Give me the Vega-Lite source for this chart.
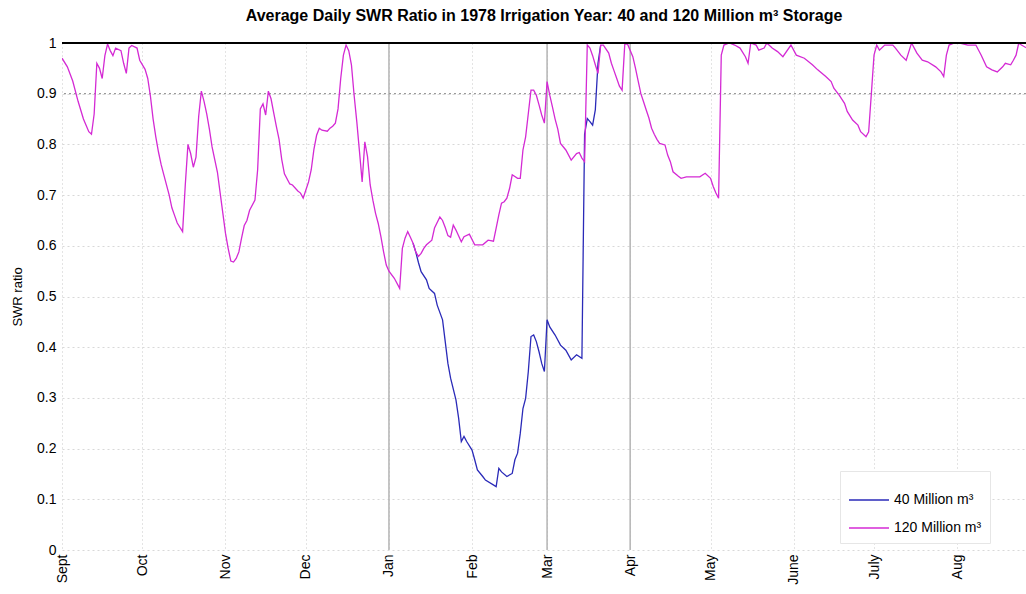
{
  "$schema": "https://vega.github.io/schema/vega-lite/v6.json",
  "autosize": {"type": "none"},
  "padding": {"left": 62, "top": 43, "right": 0, "bottom": 44},
  "width": 964,
  "height": 507,
  "background": "white",
  "title": {
    "text": "Average Daily SWR Ratio in 1978 Irrigation Year: 40 and 120 Million m³ Storage",
    "font": "Liberation Sans",
    "fontSize": 16,
    "fontWeight": "bold",
    "color": "#000000",
    "anchor": "middle",
    "offset": 12
  },
  "config": {
    "view": {"stroke": null},
    "font": "Liberation Sans",
    "axis": {
      "labelFont": "Liberation Sans",
      "titleFont": "Liberation Sans",
      "labelColor": "#000000",
      "titleColor": "#000000",
      "labelFontSize": 14,
      "titleFontSize": 13,
      "titleFontWeight": "normal"
    },
    "legend": {"labelFont": "Liberation Sans"}
  },
  "datasets": {
    "s120": [
      {"d": "1978-09-01", "v": 0.97}, {"d": "1978-09-03", "v": 0.953}, {"d": "1978-09-05", "v": 0.925},
      {"d": "1978-09-07", "v": 0.885}, {"d": "1978-09-09", "v": 0.85}, {"d": "1978-09-11", "v": 0.825},
      {"d": "1978-09-12", "v": 0.82}, {"d": "1978-09-13", "v": 0.86}, {"d": "1978-09-14", "v": 0.96},
      {"d": "1978-09-15", "v": 0.95}, {"d": "1978-09-16", "v": 0.93}, {"d": "1978-09-17", "v": 0.975},
      {"d": "1978-09-18", "v": 0.998}, {"d": "1978-09-19", "v": 0.985}, {"d": "1978-09-20", "v": 0.975},
      {"d": "1978-09-21", "v": 0.99}, {"d": "1978-09-23", "v": 0.985}, {"d": "1978-09-24", "v": 0.96},
      {"d": "1978-09-25", "v": 0.94}, {"d": "1978-09-26", "v": 0.99}, {"d": "1978-09-27", "v": 0.995},
      {"d": "1978-09-29", "v": 0.99}, {"d": "1978-09-30", "v": 0.966}, {"d": "1978-10-02", "v": 0.948},
      {"d": "1978-10-03", "v": 0.93}, {"d": "1978-10-04", "v": 0.895}, {"d": "1978-10-05", "v": 0.85},
      {"d": "1978-10-06", "v": 0.815}, {"d": "1978-10-07", "v": 0.785}, {"d": "1978-10-08", "v": 0.76},
      {"d": "1978-10-09", "v": 0.74}, {"d": "1978-10-11", "v": 0.7}, {"d": "1978-10-12", "v": 0.675},
      {"d": "1978-10-13", "v": 0.66}, {"d": "1978-10-14", "v": 0.645}, {"d": "1978-10-16", "v": 0.628},
      {"d": "1978-10-17", "v": 0.72}, {"d": "1978-10-18", "v": 0.8}, {"d": "1978-10-19", "v": 0.782},
      {"d": "1978-10-20", "v": 0.755}, {"d": "1978-10-21", "v": 0.775}, {"d": "1978-10-22", "v": 0.855},
      {"d": "1978-10-23", "v": 0.905}, {"d": "1978-10-24", "v": 0.885}, {"d": "1978-10-25", "v": 0.86},
      {"d": "1978-10-26", "v": 0.83}, {"d": "1978-10-27", "v": 0.795}, {"d": "1978-10-28", "v": 0.77},
      {"d": "1978-10-29", "v": 0.745}, {"d": "1978-10-30", "v": 0.705}, {"d": "1978-10-31", "v": 0.665},
      {"d": "1978-11-01", "v": 0.625}, {"d": "1978-11-02", "v": 0.595}, {"d": "1978-11-03", "v": 0.57},
      {"d": "1978-11-04", "v": 0.568}, {"d": "1978-11-05", "v": 0.575}, {"d": "1978-11-06", "v": 0.588},
      {"d": "1978-11-07", "v": 0.615}, {"d": "1978-11-08", "v": 0.64}, {"d": "1978-11-09", "v": 0.65},
      {"d": "1978-11-10", "v": 0.67}, {"d": "1978-11-12", "v": 0.69}, {"d": "1978-11-13", "v": 0.75},
      {"d": "1978-11-14", "v": 0.87}, {"d": "1978-11-15", "v": 0.88}, {"d": "1978-11-16", "v": 0.858},
      {"d": "1978-11-17", "v": 0.905}, {"d": "1978-11-18", "v": 0.89}, {"d": "1978-11-19", "v": 0.862},
      {"d": "1978-11-20", "v": 0.835}, {"d": "1978-11-21", "v": 0.81}, {"d": "1978-11-22", "v": 0.77},
      {"d": "1978-11-23", "v": 0.742}, {"d": "1978-11-25", "v": 0.722}, {"d": "1978-11-26", "v": 0.72},
      {"d": "1978-11-28", "v": 0.708}, {"d": "1978-11-29", "v": 0.704}, {"d": "1978-11-30", "v": 0.694},
      {"d": "1978-12-01", "v": 0.71}, {"d": "1978-12-02", "v": 0.726}, {"d": "1978-12-03", "v": 0.75},
      {"d": "1978-12-04", "v": 0.79}, {"d": "1978-12-05", "v": 0.818}, {"d": "1978-12-06", "v": 0.832},
      {"d": "1978-12-07", "v": 0.828}, {"d": "1978-12-09", "v": 0.826}, {"d": "1978-12-10", "v": 0.832},
      {"d": "1978-12-11", "v": 0.836}, {"d": "1978-12-12", "v": 0.842}, {"d": "1978-12-13", "v": 0.87},
      {"d": "1978-12-14", "v": 0.93}, {"d": "1978-12-15", "v": 0.976}, {"d": "1978-12-16", "v": 0.996},
      {"d": "1978-12-17", "v": 0.985}, {"d": "1978-12-18", "v": 0.957}, {"d": "1978-12-19", "v": 0.897},
      {"d": "1978-12-20", "v": 0.845}, {"d": "1978-12-21", "v": 0.786}, {"d": "1978-12-22", "v": 0.726},
      {"d": "1978-12-23", "v": 0.805}, {"d": "1978-12-24", "v": 0.776}, {"d": "1978-12-25", "v": 0.72},
      {"d": "1978-12-26", "v": 0.69}, {"d": "1978-12-27", "v": 0.664}, {"d": "1978-12-28", "v": 0.644},
      {"d": "1978-12-29", "v": 0.618}, {"d": "1978-12-30", "v": 0.588}, {"d": "1978-12-31", "v": 0.562},
      {"d": "1979-01-01", "v": 0.55}, {"d": "1979-01-03", "v": 0.536}, {"d": "1979-01-05", "v": 0.516},
      {"d": "1979-01-06", "v": 0.595}, {"d": "1979-01-07", "v": 0.615}, {"d": "1979-01-08", "v": 0.628},
      {"d": "1979-01-09", "v": 0.617}, {"d": "1979-01-10", "v": 0.605}, {"d": "1979-01-11", "v": 0.588},
      {"d": "1979-01-12", "v": 0.579}, {"d": "1979-01-13", "v": 0.585}, {"d": "1979-01-14", "v": 0.595},
      {"d": "1979-01-15", "v": 0.602}, {"d": "1979-01-17", "v": 0.611}, {"d": "1979-01-18", "v": 0.635},
      {"d": "1979-01-20", "v": 0.657}, {"d": "1979-01-21", "v": 0.65}, {"d": "1979-01-22", "v": 0.636},
      {"d": "1979-01-23", "v": 0.62}, {"d": "1979-01-24", "v": 0.617}, {"d": "1979-01-25", "v": 0.641},
      {"d": "1979-01-26", "v": 0.631}, {"d": "1979-01-28", "v": 0.608}, {"d": "1979-01-29", "v": 0.618},
      {"d": "1979-01-31", "v": 0.623}, {"d": "1979-02-02", "v": 0.602}, {"d": "1979-02-05", "v": 0.602},
      {"d": "1979-02-07", "v": 0.611}, {"d": "1979-02-09", "v": 0.609}, {"d": "1979-02-10", "v": 0.635},
      {"d": "1979-02-11", "v": 0.661}, {"d": "1979-02-12", "v": 0.684}, {"d": "1979-02-13", "v": 0.687},
      {"d": "1979-02-14", "v": 0.694}, {"d": "1979-02-15", "v": 0.713}, {"d": "1979-02-16", "v": 0.74},
      {"d": "1979-02-18", "v": 0.733}, {"d": "1979-02-19", "v": 0.733}, {"d": "1979-02-20", "v": 0.789},
      {"d": "1979-02-21", "v": 0.815}, {"d": "1979-02-22", "v": 0.861}, {"d": "1979-02-23", "v": 0.907},
      {"d": "1979-02-24", "v": 0.907}, {"d": "1979-02-25", "v": 0.897}, {"d": "1979-02-26", "v": 0.878},
      {"d": "1979-02-27", "v": 0.858}, {"d": "1979-02-28", "v": 0.842}, {"d": "1979-03-01", "v": 0.924},
      {"d": "1979-03-02", "v": 0.897}, {"d": "1979-03-03", "v": 0.874}, {"d": "1979-03-04", "v": 0.85},
      {"d": "1979-03-05", "v": 0.83}, {"d": "1979-03-06", "v": 0.802}, {"d": "1979-03-08", "v": 0.789},
      {"d": "1979-03-10", "v": 0.769}, {"d": "1979-03-12", "v": 0.782}, {"d": "1979-03-13", "v": 0.784},
      {"d": "1979-03-14", "v": 0.773}, {"d": "1979-03-15", "v": 0.766}, {"d": "1979-03-16", "v": 0.996},
      {"d": "1979-03-17", "v": 0.99}, {"d": "1979-03-18", "v": 0.975}, {"d": "1979-03-19", "v": 0.957},
      {"d": "1979-03-20", "v": 0.94}, {"d": "1979-03-21", "v": 0.996}, {"d": "1979-03-22", "v": 0.996},
      {"d": "1979-03-24", "v": 0.98}, {"d": "1979-03-25", "v": 0.96}, {"d": "1979-03-26", "v": 0.945},
      {"d": "1979-03-27", "v": 0.93}, {"d": "1979-03-28", "v": 0.915}, {"d": "1979-03-29", "v": 0.907},
      {"d": "1979-03-30", "v": 0.998}, {"d": "1979-03-31", "v": 0.998}, {"d": "1979-04-02", "v": 0.973},
      {"d": "1979-04-03", "v": 0.95}, {"d": "1979-04-04", "v": 0.925}, {"d": "1979-04-05", "v": 0.9},
      {"d": "1979-04-06", "v": 0.884}, {"d": "1979-04-07", "v": 0.868}, {"d": "1979-04-08", "v": 0.852},
      {"d": "1979-04-09", "v": 0.832}, {"d": "1979-04-10", "v": 0.82}, {"d": "1979-04-11", "v": 0.81},
      {"d": "1979-04-12", "v": 0.802}, {"d": "1979-04-14", "v": 0.799}, {"d": "1979-04-15", "v": 0.779},
      {"d": "1979-04-16", "v": 0.766}, {"d": "1979-04-17", "v": 0.746}, {"d": "1979-04-19", "v": 0.737},
      {"d": "1979-04-20", "v": 0.733}, {"d": "1979-04-22", "v": 0.736}, {"d": "1979-04-25", "v": 0.736},
      {"d": "1979-04-27", "v": 0.736}, {"d": "1979-04-29", "v": 0.743}, {"d": "1979-05-01", "v": 0.733},
      {"d": "1979-05-02", "v": 0.717}, {"d": "1979-05-03", "v": 0.704}, {"d": "1979-05-04", "v": 0.694},
      {"d": "1979-05-05", "v": 0.976}, {"d": "1979-05-06", "v": 0.996}, {"d": "1979-05-08", "v": 1.0},
      {"d": "1979-05-10", "v": 0.996}, {"d": "1979-05-12", "v": 0.99}, {"d": "1979-05-14", "v": 0.973},
      {"d": "1979-05-15", "v": 0.96}, {"d": "1979-05-16", "v": 1.0}, {"d": "1979-05-18", "v": 0.996},
      {"d": "1979-05-19", "v": 0.986}, {"d": "1979-05-21", "v": 0.99}, {"d": "1979-05-22", "v": 1.0},
      {"d": "1979-05-24", "v": 0.99}, {"d": "1979-05-26", "v": 0.983}, {"d": "1979-05-28", "v": 0.973},
      {"d": "1979-05-31", "v": 0.996}, {"d": "1979-06-02", "v": 0.976}, {"d": "1979-06-05", "v": 0.97},
      {"d": "1979-06-08", "v": 0.957}, {"d": "1979-06-10", "v": 0.947}, {"d": "1979-06-13", "v": 0.934},
      {"d": "1979-06-15", "v": 0.924}, {"d": "1979-06-16", "v": 0.911}, {"d": "1979-06-18", "v": 0.897},
      {"d": "1979-06-20", "v": 0.881}, {"d": "1979-06-21", "v": 0.865}, {"d": "1979-06-23", "v": 0.848},
      {"d": "1979-06-25", "v": 0.838}, {"d": "1979-06-26", "v": 0.825}, {"d": "1979-06-28", "v": 0.815},
      {"d": "1979-06-29", "v": 0.825}, {"d": "1979-06-30", "v": 0.9}, {"d": "1979-07-01", "v": 0.976},
      {"d": "1979-07-02", "v": 0.996}, {"d": "1979-07-03", "v": 0.986}, {"d": "1979-07-05", "v": 0.996},
      {"d": "1979-07-08", "v": 0.996}, {"d": "1979-07-09", "v": 0.99}, {"d": "1979-07-11", "v": 0.976},
      {"d": "1979-07-13", "v": 0.966}, {"d": "1979-07-14", "v": 0.983}, {"d": "1979-07-15", "v": 1.0},
      {"d": "1979-07-17", "v": 0.98}, {"d": "1979-07-19", "v": 0.966}, {"d": "1979-07-21", "v": 0.963},
      {"d": "1979-07-24", "v": 0.953}, {"d": "1979-07-26", "v": 0.943}, {"d": "1979-07-27", "v": 0.934},
      {"d": "1979-07-28", "v": 0.976}, {"d": "1979-07-29", "v": 0.996}, {"d": "1979-07-31", "v": 1.0},
      {"d": "1979-08-02", "v": 1.0}, {"d": "1979-08-05", "v": 0.996}, {"d": "1979-08-06", "v": 0.996},
      {"d": "1979-08-08", "v": 0.996}, {"d": "1979-08-10", "v": 0.976}, {"d": "1979-08-12", "v": 0.953},
      {"d": "1979-08-14", "v": 0.947}, {"d": "1979-08-16", "v": 0.943}, {"d": "1979-08-18", "v": 0.953},
      {"d": "1979-08-19", "v": 0.96}, {"d": "1979-08-21", "v": 0.957}, {"d": "1979-08-22", "v": 0.966},
      {"d": "1979-08-23", "v": 0.976}, {"d": "1979-08-24", "v": 1.0}, {"d": "1979-08-25", "v": 0.996},
      {"d": "1979-08-27", "v": 0.99}
    ],
    "s40": [
      {"d": "1979-01-10", "v": 0.605}, {"d": "1979-01-11", "v": 0.588}, {"d": "1979-01-12", "v": 0.567},
      {"d": "1979-01-13", "v": 0.549}, {"d": "1979-01-15", "v": 0.533}, {"d": "1979-01-16", "v": 0.516},
      {"d": "1979-01-18", "v": 0.506}, {"d": "1979-01-19", "v": 0.483}, {"d": "1979-01-21", "v": 0.454},
      {"d": "1979-01-22", "v": 0.411}, {"d": "1979-01-23", "v": 0.368}, {"d": "1979-01-24", "v": 0.339},
      {"d": "1979-01-26", "v": 0.296}, {"d": "1979-01-27", "v": 0.26}, {"d": "1979-01-28", "v": 0.214},
      {"d": "1979-01-29", "v": 0.224}, {"d": "1979-01-30", "v": 0.214}, {"d": "1979-02-01", "v": 0.197},
      {"d": "1979-02-02", "v": 0.178}, {"d": "1979-02-03", "v": 0.158}, {"d": "1979-02-05", "v": 0.145},
      {"d": "1979-02-06", "v": 0.138}, {"d": "1979-02-10", "v": 0.125}, {"d": "1979-02-11", "v": 0.161},
      {"d": "1979-02-12", "v": 0.154}, {"d": "1979-02-14", "v": 0.145}, {"d": "1979-02-16", "v": 0.151},
      {"d": "1979-02-17", "v": 0.178}, {"d": "1979-02-18", "v": 0.191}, {"d": "1979-02-19", "v": 0.23},
      {"d": "1979-02-20", "v": 0.279}, {"d": "1979-02-21", "v": 0.299}, {"d": "1979-02-22", "v": 0.352},
      {"d": "1979-02-23", "v": 0.421}, {"d": "1979-02-24", "v": 0.424}, {"d": "1979-02-25", "v": 0.411},
      {"d": "1979-02-26", "v": 0.391}, {"d": "1979-02-27", "v": 0.368}, {"d": "1979-02-28", "v": 0.352},
      {"d": "1979-03-01", "v": 0.454}, {"d": "1979-03-02", "v": 0.44}, {"d": "1979-03-04", "v": 0.424},
      {"d": "1979-03-06", "v": 0.404}, {"d": "1979-03-08", "v": 0.394}, {"d": "1979-03-10", "v": 0.375},
      {"d": "1979-03-12", "v": 0.385}, {"d": "1979-03-14", "v": 0.378}, {"d": "1979-03-15", "v": 0.82},
      {"d": "1979-03-16", "v": 0.851}, {"d": "1979-03-17", "v": 0.845}, {"d": "1979-03-18", "v": 0.838},
      {"d": "1979-03-19", "v": 0.868}, {"d": "1979-03-20", "v": 0.96}, {"d": "1979-03-21", "v": 0.996}
    ],
    "marks": [
      {"d": "1979-01-01"}, {"d": "1979-03-01"}, {"d": "1979-04-01"}
    ]
  },
  "layer": [
    {
      "data": {"name": "marks", "format": {"parse": {"d": "date:'%Y-%m-%d'"}}},
      "mark": {"type": "rule", "color": "#b4b4b4", "strokeWidth": 1.5},
      "encoding": {
        "x": {
          "field": "d",
          "type": "temporal",
          "scale": {
            "domain": [
              {"year": 1978, "month": 9, "date": 1},
              {"year": 1979, "month": 8, "date": 26, "hours": 17}
            ]
          },
          "axis": {
            "title": null,
            "tickCount": {"interval": "month", "step": 1},
            "labelExpr": "['Jan','Feb','Mar','Apr','May','June','July','Aug','Sept','Oct','Nov','Dec'][month(datum.value)]",
            "labelAngle": 270,
            "labelPadding": 4,
            "labelFlush": false,
            "labelOverlap": false,
            "domain": false,
            "ticks": false,
            "grid": true,
            "gridColor": "#c8c8c8",
            "gridDash": [1, 3],
            "gridWidth": 1
          }
        }
      }
    },
    {
      "data": {"values": [{"y": 0.9}]},
      "mark": {"type": "rule", "color": "#9a9a9a", "strokeDash": [2, 3], "strokeWidth": 1.2},
      "encoding": {"y": {"field": "y", "type": "quantitative"}}
    },
    {
      "data": {"name": "s40", "format": {"parse": {"d": "date:'%Y-%m-%d'"}}},
      "mark": {"type": "line", "strokeWidth": 1.3, "clip": true},
      "encoding": {
        "x": {"field": "d", "type": "temporal"},
        "y": {
          "field": "v",
          "type": "quantitative",
          "scale": {"domain": [0, 1], "nice": false},
          "axis": {
            "title": "SWR ratio",
            "titlePadding": 12,
            "values": [0, 0.1, 0.2, 0.3, 0.4, 0.5, 0.6, 0.7, 0.8, 0.9, 1],
            "format": ".1~f",
            "labelPadding": 6,
            "domain": false,
            "ticks": false,
            "grid": true,
            "gridColor": "#d8d8d8",
            "gridDash": [2, 3],
            "gridWidth": 1
          }
        },
        "color": {
          "datum": "40 Million m³",
          "type": "nominal",
          "scale": {
            "domain": ["40 Million m³", "120 Million m³"],
            "range": ["#2a2ab8", "#d42ad4"]
          },
          "legend": {
            "title": null,
            "orient": "none",
            "legendX": 778,
            "legendY": 428,
            "symbolType": "stroke",
            "symbolSize": 1600,
            "symbolStrokeWidth": 1.5,
            "labelFontSize": 14,
            "labelColor": "#000000",
            "rowPadding": -16,
            "padding": 8,
            "fillColor": "white",
            "strokeColor": "#e6e6e6"
          }
        }
      }
    },
    {
      "data": {"name": "s120", "format": {"parse": {"d": "date:'%Y-%m-%d'"}}},
      "mark": {"type": "line", "strokeWidth": 1.3, "clip": true},
      "encoding": {
        "x": {"field": "d", "type": "temporal"},
        "y": {"field": "v", "type": "quantitative"},
        "color": {"datum": "120 Million m³", "type": "nominal"}
      }
    },
    {
      "data": {"values": [{"y": 1}]},
      "mark": {"type": "rule", "color": "#000000", "strokeWidth": 2},
      "encoding": {"y": {"field": "y", "type": "quantitative"}}
    }
  ]
}
